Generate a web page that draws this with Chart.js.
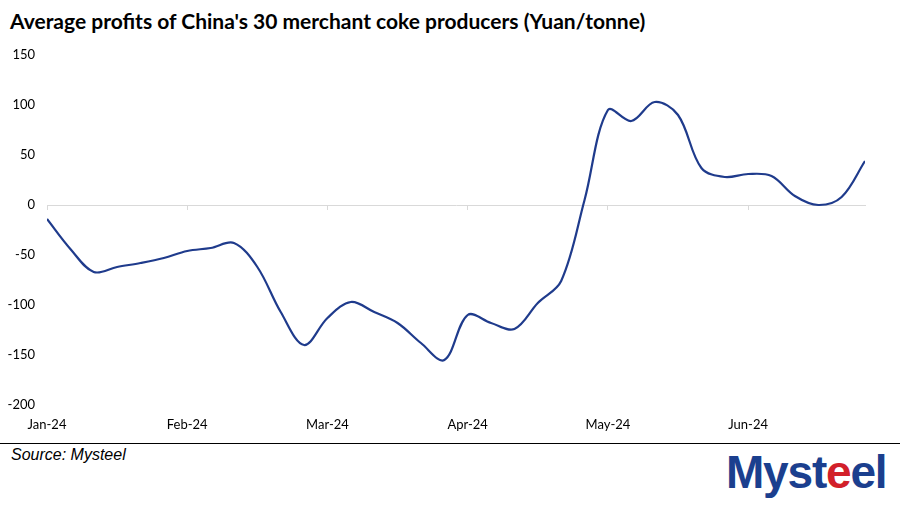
<!DOCTYPE html>
<html>
<head>
<meta charset="utf-8">
<script src="https://cdn.jsdelivr.net/npm/chart.js@4/dist/chart.umd.min.js"></script>
<style>
  body { margin: 0; width: 900px; height: 508px; background: #fff; position: relative; overflow: hidden; }
  #title { position: absolute; left: 10px; top: 8px; font: bold 21px Lato, sans-serif; color: #000; white-space: nowrap; }
  #wrap { position: absolute; left: 0; top: 0; width: 900px; height: 440px; }
  #rule { position: absolute; left: 0; top: 443px; width: 900px; height: 0; border-top: 1.5px solid #000; }
  #source { position: absolute; left: 11px; top: 446px; font: italic 16px "Liberation Sans", Arial, sans-serif; color: #000; }
  #logo { position: absolute; left: 726px; top: 445px; font: bold 46px "Liberation Sans", Arial, sans-serif; letter-spacing: -1.2px; color: #1b3f8e; }
  #logo .r { color: #d2202a; }
</style>
</head>
<body>
<div id="title">Average profits of China's 30 merchant coke producers (Yuan/tonne)</div>
<div id="wrap"><canvas id="chartStuff"></canvas></div>
<div id="rule"></div>
<div id="source">Source: Mysteel</div>
<div id="logo">Myst<span class="r">e</span>el</div>
<script>
// month labels on the x axis, one every 6 points
var months = ['Jan-24', 'Feb-24', 'Mar-24', 'Apr-24', 'May-24', 'Jun-24'];
var pointsPerMonth = 6;
// average profit, Yuan/tonne
var profits = [-14, -44, -67, -62, -58, -53, -46, -43, -38, -62, -107, -140,
               -113, -97, -107, -118, -138, -155, -110, -118, -124, -98, -76, 5,
               95, 84, 103, 90, 37, 28, 31, 29, 9, 0, 8, 44];
var yTicks = [150, 100, 50, 0, -50, -100, -150, -200];

var points = profits.map(function(v, i){ return {x: i, y: v}; });
var lastX = profits.length - 1;

// each axis needs its own tick objects, labels get written onto them
function monthTicks(){
  return months.map(function(m, i){ return {value: i * pointsPerMonth}; });
}

var ctx = document.getElementById('chartStuff').getContext('2d');
var myChart = new Chart(ctx, {
  type: 'line',
  data: {
    datasets: [{
      label: 'Average profits',
      data: points,
      xAxisID: 'x',
      borderColor: '#1f3b8c',
      borderWidth: 2.2,
      pointRadius: 0,
      tension: 0.35,
      fill: false
    }]
  },
  options: {
    responsive: true,
    maintainAspectRatio: false,
    animation: false,
    layout: { padding: { top: 55, right: 35, left: 0, bottom: 0 } },
    plugins: { legend: { display: false }, tooltip: { enabled: false }, title: { display: false } },
    scales: {
      x: {
        type: 'linear',
        min: 0,
        max: lastX,
        afterBuildTicks: function(scale){ scale.ticks = monthTicks(); },
        afterTickToLabelConversion: function(scale){
          scale.ticks.forEach(function(t){ t.label = months[Math.round(t.value / pointsPerMonth)]; });
        },
        afterFit: function(scale){ scale.height = 35; },
        grid: { display: false, drawTicks: false },
        border: { display: false },
        ticks: {
          padding: 12,
          color: '#000',
          font: { family: 'Lato', size: 13 },
          maxRotation: 0,
          autoSkip: false
        }
      },
      zero: {
        type: 'linear',
        axis: 'x',
        position: { y: 0 },
        min: 0,
        max: lastX,
        afterBuildTicks: function(scale){ scale.ticks = monthTicks(); },
        grid: { drawOnChartArea: false, drawTicks: true, tickLength: 4, color: '#d9d9d9', lineWidth: 1 },
        border: { display: true, color: '#d9d9d9', width: 1 },
        ticks: { display: false }
      },
      y: {
        min: -200,
        max: 150,
        afterBuildTicks: function(scale){ scale.ticks = yTicks.map(function(v){ return {value: v}; }); },
        afterFit: function(scale){ scale.width = 47; },
        grid: { display: false, drawTicks: false },
        border: { display: false },
        ticks: {
          padding: 12,
          color: '#000',
          font: { family: 'Lato', size: 13 }
        }
      }
    }
  }
});
</script>
</body>
</html>
